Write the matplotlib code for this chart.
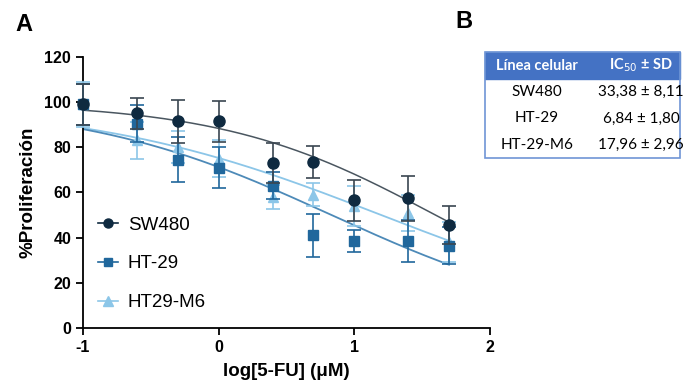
import numpy as np
import matplotlib
matplotlib.use("Agg")
import matplotlib.pyplot as plt
from matplotlib.lines import Line2D

plt.rcParams['font.family'] = ['Liberation Sans', 'DejaVu Sans']
plt.rcParams['axes.unicode_minus'] = False

# ---- data (log10 of 5-FU concentration, uM) ----
log_dose = [-1, -0.6, -0.3, 0, 0.4, 0.7, 1, 1.4, 1.7]

sw480 = [99, 95, 91.5, 91.5, 73, 73.5, 56.5, 57.5, 45.5]
sw480_sd = [9, 7, 9.5, 9, 9, 7, 9, 10, 8.5]

ht29 = [99, 90.5, 74.5, 71, 63, 41, 38.5, 38.5, 36.5]
ht29_sd = [9, 8, 10, 9, 6, 9.5, 5, 9.5, 8]

m6 = [99, 83, 80, 75, 58, 59, 54, 51, 38]
m6_sd = [10, 8, 7, 8, 5.5, 5, 9, 8, 9]

# fitted 4PL parameters: top, bottom, logIC50, hill
fit_sw480 = (100, 0, 1.6, 0.55)
fit_ht29 = (100, 0, 0.833, 0.473)
fit_m6 = (100, 0, 1.2, 0.403)

table_cols = ["Línea celular", "IC$_{50}$ ± SD"]
table_lines = ["SW480", "HT-29", "HT-29-M6"]
table_ic50 = ["33,38 ± 8,11", "6,84 ± 1,80", "17,96 ± 2,96"]

c_sw = "#0f2a40"
c_ht = "#20679c"
c_m6 = "#8cc6e8"
line_sw = "#4a5660"


def four_pl(x, p):
    top, bottom, c, h = p
    return bottom + (top - bottom) / (1 + 10 ** ((x - c) * h))


fig = plt.figure(figsize=(6.83, 3.82), dpi=100)
ax = fig.add_axes([0.1215, 0.1414, 0.5955, 0.7096])

xs = np.linspace(log_dose[0], log_dose[-1], 200)
ax.plot(xs, four_pl(xs, fit_m6), color=c_m6, lw=1.3, zorder=2)
ax.plot(xs, four_pl(xs, fit_ht29), color="#4d8ab8", lw=1.3, zorder=2)
ax.plot(xs, four_pl(xs, fit_sw480), color=line_sw, lw=1.1, zorder=2)

ax.errorbar(log_dose, m6, yerr=m6_sd, fmt='^', color=c_m6, ms=7,
            capsize=5, elinewidth=1.2, capthick=1.2, zorder=3, clip_on=False)
ax.errorbar(log_dose, ht29, yerr=ht29_sd, fmt='s', color=c_ht, ms=7,
            capsize=5, elinewidth=1.2, capthick=1.2, zorder=4, clip_on=False)
ax.errorbar(log_dose, sw480, yerr=sw480_sd, fmt='o', color=c_sw, ms=8,
            capsize=5, elinewidth=1.2, capthick=1.2, ecolor="#3a4650",
            zorder=5, clip_on=False)

ax.set_xlim(-1, 2)
ax.set_ylim(0, 120)
ax.set_xticks([-1, 0, 1, 2])
ax.set_yticks(range(0, 121, 20))
ax.spines['top'].set_visible(False)
ax.spines['right'].set_visible(False)
for s in ['left', 'bottom']:
    ax.spines[s].set_linewidth(1.3)
ax.tick_params(direction='out', length=5, width=1.3, labelsize=11.5)
for lab in ax.get_xticklabels() + ax.get_yticklabels():
    lab.set_fontweight('bold')
ax.set_xlabel("log[5-FU] (μM)", fontsize=13.5, fontweight='bold', labelpad=6)
ax.set_ylabel("%Proliferación", fontsize=13.5, fontweight='bold', labelpad=6)

handles = [
    Line2D([], [], color=c_sw, marker='o', ms=6.5, lw=1.2),
    Line2D([], [], color=c_ht, marker='s', ms=6, lw=1.2),
    Line2D([], [], color=c_m6, marker='^', ms=6.5, lw=1.2),
]
ax.legend(handles, ["SW480", "HT-29", "HT29-M6"], loc='lower left',
          bbox_to_anchor=(-0.005, 0.0), frameon=False, fontsize=13.5,
          handlelength=1.1, handletextpad=0.5, labelspacing=1.15)

fig.text(0.022, 0.937, "A", fontsize=17, fontweight='bold', va='center')
fig.text(0.667, 0.945, "B", fontsize=17, fontweight='bold', va='center')

# ---- table B ----
tx0, tx1 = 485 / 683, 680 / 683
ty_top, ty_head, ty_bot = 1 - 52 / 382, 1 - 79 / 382, 1 - 158 / 382
blue = "#4472c4"
fig.patches.append(plt.Rectangle((tx0, ty_head), tx1 - tx0, ty_top - ty_head,
                                 transform=fig.transFigure, color=blue))
fig.patches.append(plt.Rectangle((tx0, ty_bot), tx1 - tx0, ty_top - ty_bot,
                                 transform=fig.transFigure, fill=False,
                                 edgecolor="#6f95d6", lw=1.2))
col_x = [537 / 683, 641 / 683]
tfont = ['Lato', 'DejaVu Sans']
head_y = (ty_top + ty_head) / 2
for cx, t in zip(col_x, table_cols):
    fig.text(cx, head_y, t, ha='center', va='center', color='white',
             fontsize=10.5, fontweight='bold', family=tfont)
row_h = (ty_head - ty_bot) / 3
for i, (name, val) in enumerate(zip(table_lines, table_ic50)):
    y = ty_head - row_h * (i + 0.5)
    fig.text(col_x[0], y, name, ha='center', va='center', fontsize=11,
             family=tfont)
    fig.text(col_x[1], y, val, ha='center', va='center', fontsize=11,
             family=tfont)

fig.savefig("out.png", dpi=100)
